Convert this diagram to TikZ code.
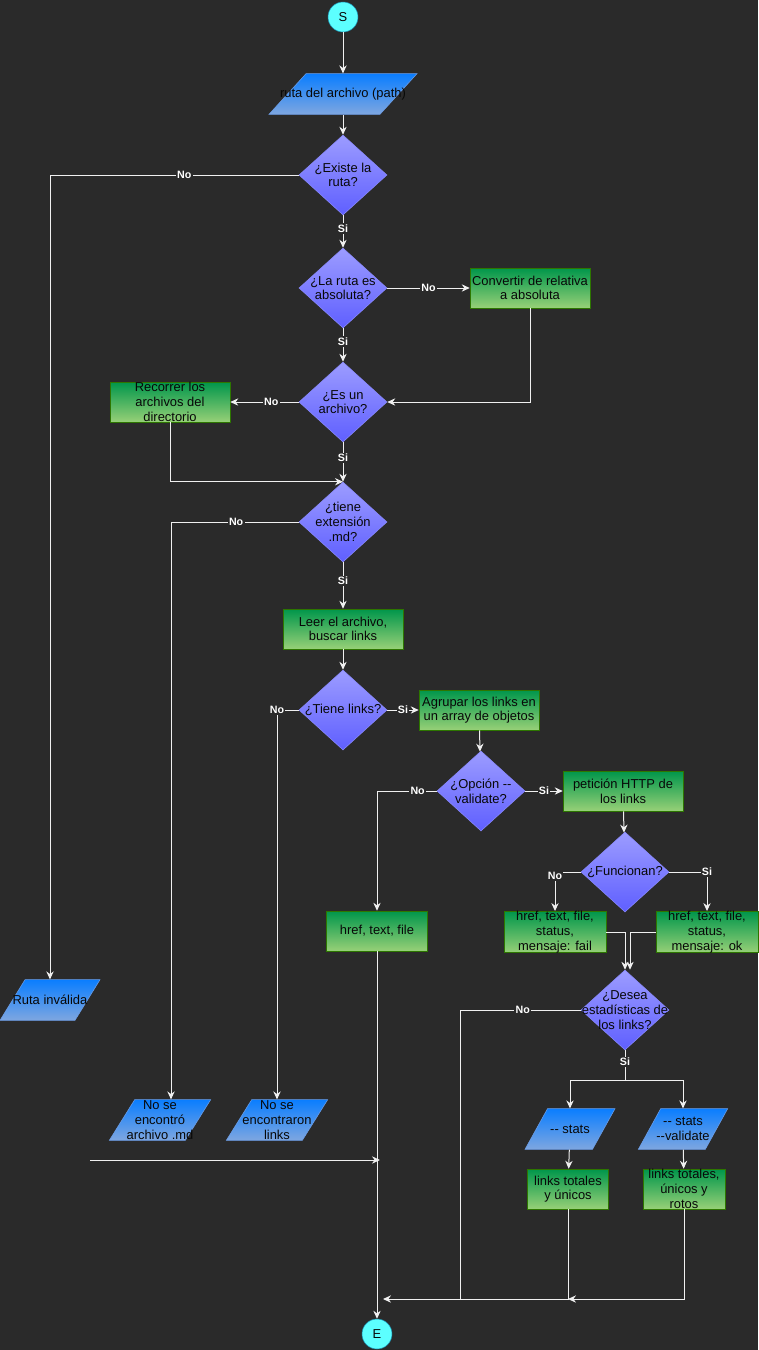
\documentclass[tikz,border=0pt]{standalone}
\usepackage{fontspec}
\setmainfont{Liberation Sans}
\usetikzlibrary{shapes.geometric,arrows.meta}

\definecolor{bg}{HTML}{2A2A2A}
\definecolor{ink}{HTML}{080808}
\definecolor{wire}{HTML}{F0F0F0}
\definecolor{termfill}{HTML}{5CFFFF}
\definecolor{termline}{HTML}{1C8FB0}
\definecolor{proctop}{HTML}{00964B}
\definecolor{procbot}{HTML}{97D077}
\definecolor{procline}{HTML}{2D7600}
\definecolor{iotop}{HTML}{0A7EFF}
\definecolor{iobot}{HTML}{7EA6E0}
\definecolor{ioline}{HTML}{6C9EE8}
\definecolor{dectop}{HTML}{9C9CFF}
\definecolor{decbot}{HTML}{5F5FFF}
\definecolor{decline}{HTML}{8A8AFF}

\tikzset{
  txt/.style={font=\fontsize{9.7}{11}\selectfont, text=ink, align=center, inner sep=0pt},
  term/.style={circle, draw=termline, fill=termfill, minimum size=22.5pt, inner sep=0pt, txt},
  proc/.style={rectangle, draw=procline, top color=proctop, bottom color=procbot,
    minimum width=90pt, minimum height=30pt, txt},
  io/.style={trapezium, trapezium left angle=63.4, trapezium right angle=116.6,
    trapezium stretches=true, draw=ioline, top color=iotop, bottom color=iobot,
    minimum height=30.5pt, inner sep=1pt},
  decision/.style={diamond, draw=decline, top color=dectop, bottom color=decbot,
    minimum width=66pt, minimum height=60pt, inner sep=0pt},
  arr/.style={-{Stealth[length=6pt,width=5.5pt]}, draw=wire, line width=0.75pt},
  wireline/.style={draw=wire, line width=0.75pt},
  elabel/.style={fill=bg, text=white, font=\fontsize{8}{9}\selectfont\bfseries, inner sep=1pt},
}

\begin{document}
\begin{tikzpicture}[x=0.75pt, y=-0.75pt]
    \fill[bg] (0,0) rectangle (758,1350);
    \useasboundingbox (0,0) rectangle (758,1350);

    %% main column
    \node[term] (s) at (343,17) {S};
    \node[io, minimum width=111pt, label={[txt]center:ruta del archivo (path)}] (ruta) at (343,94) {};
    \node[decision, label={[txt]center:{¿Existe la\\ruta?}}] (d1) at (343,175) {};
    \node[decision, label={[txt]center:{¿La ruta es\\absoluta?}}] (d2) at (343,288) {};
    \node[proc] (conv) at (530,288) {Convertir de relativa\\a absoluta};
    \node[decision, label={[txt]center:{¿Es un\\archivo?}}] (d3) at (343,402) {};
    \node[proc] (rec) at (170,402) {Recorrer los\\archivos del\\directorio};
    \node[decision, label={[txt]center:{¿tiene\\extensión\\.md?}}] (d4) at (343,522) {};
    \node[proc] (leer) at (343,629) {Leer el archivo,\\buscar links};
    \node[decision, label={[txt]center:{¿Tiene links?}}] (d5) at (343,710) {};
    \node[proc] (agrupar) at (479,710) {Agrupar los links en\\un array de objetos};
    \node[decision, label={[txt]center:{¿Opción -{}-\\validate?}}] (d6) at (481,791) {};
    \node[proc] (pet) at (623,791) {petición HTTP de\\los links};
    \node[decision, label={[txt]center:{¿Funcionan?}}] (d7) at (625,872) {};
    \node[proc, minimum width=76.5pt, minimum height=30.75pt] (fail) at (555,932) {href, text, file,\\status,\\mensaje: fail};
    \node[proc, minimum width=76.5pt, minimum height=30.75pt] (ok) at (707,932) {href, text, file,\\status,\\mensaje: ok};
    \node[proc, minimum width=76pt] (href) at (377,931) {href, text, file};
    \node[decision, label={[txt]center:{¿Desea\\estadísticas de\\los links?}}] (d8) at (625,1010) {};
    \node[io, minimum width=67.5pt, label={[txt]center:-{}- stats}] (stats) at (570,1129) {};
    \node[io, minimum width=67pt, label={[txt]center:{-{}- stats\\-{}-validate}}] (statsv) at (683,1129) {};
    \node[proc, minimum width=61pt] (unicos) at (568,1189) {links totales\\y únicos};
    \node[proc, minimum width=61.5pt] (rotos) at (684,1189) {links totales,\\únicos y\\rotos};

    %% outputs
    \node[io, minimum width=75pt, label={[txt]center:Ruta inválida}] (rinv) at (50,1000) {};
    \node[io, minimum width=76pt, label={[txt]center:{No se\\encontró\\archivo .md}}] (noarch) at (160,1120) {};
    \node[io, minimum width=76pt, label={[txt]center:{No se\\encontraron\\links}}] (nolinks) at (277,1120) {};
    \node[term] (e) at (377,1334) {E};

    \coordinate (split) at (625,1080);
    \coordinate (j1) at (460,1299);
    \coordinate (j2) at (unicos |- j1);
    \coordinate (j3) at ([xshift=4.5pt]e |- j1);
    \coordinate (f1) at (90,1160);
    \coordinate (f2) at (380,1160);

    %% connectors
    \draw[arr] (s) -- (ruta);
    \draw[arr] (ruta) -- (d1);
    \draw[arr] (d1.west) -| node[elabel, pos=0.23] {No} (rinv);
    \draw[arr] (d1) -- node[elabel, pos=0.4] {Si} (d2);
    \draw[arr] (d2) -- node[elabel] {No} (conv);
    \draw[arr] (conv) |- (d3);
    \draw[arr] (d2) -- node[elabel, pos=0.4] {Si} (d3);
    \draw[arr] (d3) -- node[elabel, pos=0.4] {No} (rec);
    \draw[arr] (rec) |- (d4.north);
    \draw[arr] (d3) -- node[elabel, pos=0.4] {Si} (d4);
    \draw[arr] (d4.west) -| node[elabel, pos=0.245] {No} ([xshift=8.25pt]noarch.north);
    \draw[arr] (d4) -- node[elabel, pos=0.4] {Si} (leer);
    \draw[arr] (leer) -- (d5);
    \draw[arr] (d5.west) -| node[elabel, pos=0.5] {No} (nolinks);
    \draw[arr] (d5) -- node[elabel] {Si} (agrupar);
    \draw[arr] (agrupar) -- (d6);
    \draw[arr] (d6.west) -| node[elabel, pos=0.16] {No} (href);
    \draw[arr] (d6) -- node[elabel] {Si} (pet);
    \draw[arr] (pet) -- (d7);
    \draw[arr] (d7.west) -| node[elabel, pos=0.55] {No} (fail);
    \draw[arr] (d7.east) -| node[elabel, pos=0.5] {Si} (ok);
    \draw[arr] (fail.east) -| (d8.north);
    \draw[arr] (ok.west) -| ([xshift=3.75pt]d8.north);
    \draw[arr] (href) -- (e);
    \draw[wireline] (d8.west) -| node[elabel, pos=0.24] {No} (j1);
    \draw[wireline] (d8) -- node[elabel, pos=0.4] {Si} (split);
    \draw[arr] (split) -| (stats);
    \draw[arr] (split) -| (statsv);
    \draw[arr] (stats) -- (unicos);
    \draw[arr] (statsv) -- (rotos);
    \draw[arr] (rotos) |- (j2);
    \draw[arr] (unicos) |- (j3);
    \draw[arr] (f1) -- (f2);
\end{tikzpicture}
\end{document}
